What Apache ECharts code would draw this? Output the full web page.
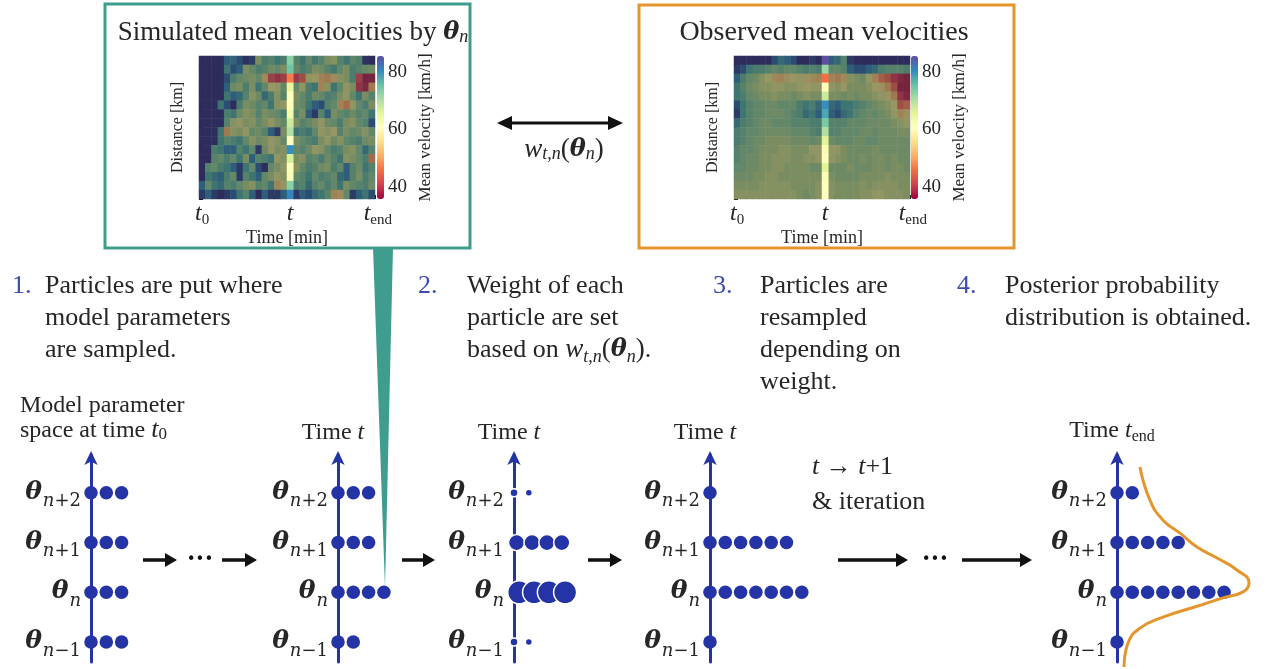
<!DOCTYPE html>
<html><head><meta charset="utf-8">
<script src="https://cdn.jsdelivr.net/npm/echarts@6/dist/echarts.min.js"></script>
<style>html,body{margin:0;padding:0;background:#fff}#c{width:1273px;height:669px}</style>
</head><body><div id="c"></div>
<script>
// ---------------- DATA ----------------
const timeCats = ['0','1','2','3','4','5','6','7','8','9','10','11','12','13','14','15','16','17','18','19','20','21','22','23','24','25','26','27'];
const distCats = ['0','1','2','3','4','5','6','7','8','9','10','11','12','13','14','15'];
const tIndex = 14;
const timeTickLabels = {0: 't0', 14: 't', 27: 'tend'};
const velocityTicks = [40, 60, 80];
const velocityRange = [35.8, 85.6];

// simulated mean velocities (rows top -> bottom, km/h)
const simRows = [
[86,86,86,86,80,79,82,85,84,66,74,72,76,74,73,72,76,70,75,72,66,64,72,76,71,73,85,86],
[86,86,86,86,76,82,80,66,70,74,72,68,70,66,75,70,74,72,66,68,72,75,70,66,74,72,70,68],
[86,86,86,86,82,74,70,68,66,70,54,42,40,42,47,41,44,62,60,52,50,55,64,66,74,42,37,37],
[86,86,86,86,80,68,66,74,66,76,70,60,62,70,65,70,62,74,76,52,64,76,70,62,66,40,38,50],
[86,86,86,86,76,80,78,72,64,68,78,74,64,72,61,66,70,74,68,70,74,72,66,62,70,76,66,72],
[86,86,86,76,82,86,74,66,68,72,70,76,64,62,60,68,70,76,80,82,72,70,52,48,62,70,74,66],
[86,86,86,86,74,76,68,64,66,72,66,68,70,74,63,72,66,80,84,72,80,66,70,72,68,72,70,76],
[86,86,86,86,72,64,62,66,64,70,66,62,66,70,68,66,72,70,66,62,68,70,74,66,64,70,72,82],
[86,86,86,76,50,64,66,62,70,68,72,80,84,66,70,76,74,76,70,62,64,60,72,66,70,68,64,70],
[86,86,86,76,72,74,76,70,64,68,66,62,64,70,61,66,70,72,74,66,62,68,64,70,72,74,68,66],
[86,86,74,76,80,80,72,76,70,84,68,62,66,64,80,70,72,68,62,64,70,74,72,66,64,70,78,72],
[86,86,72,70,74,70,76,66,80,72,74,76,62,64,67,66,64,72,70,74,68,72,76,64,66,70,74,48],
[86,72,70,74,76,80,84,76,70,82,86,70,66,62,61,64,70,74,72,68,66,74,70,80,72,68,76,72],
[86,76,78,80,74,70,84,72,76,80,70,66,62,64,62,70,72,76,70,74,72,70,78,80,72,66,74,70],
[80,70,76,78,72,74,70,66,64,72,70,76,52,62,73,74,72,78,72,70,74,70,76,66,70,72,74,68],
[84,80,84,86,84,82,76,72,80,86,80,84,84,80,81,84,80,82,78,76,72,52,54,70,84,80,76,82]
];
// observed mean velocities (rows top -> bottom, km/h)
const obsRows = [
[86,86,86,86,86,86,82,78,80,82,86,86,84,86,86,80,78,72,84,86,86,86,86,86,86,86,86,86],
[84,82,76,74,74,72,70,72,70,70,72,74,72,74,72,70,70,72,80,82,82,80,78,74,72,72,72,74],
[80,74,70,68,64,60,54,52,55,60,62,56,54,52,46,52,50,54,64,66,68,62,52,46,44,40,38,37],
[76,72,68,66,64,64,62,62,64,64,62,60,62,62,60,62,64,60,66,66,66,64,60,56,50,44,37,37],
[76,74,70,68,66,66,64,66,66,68,66,64,66,66,68,66,66,68,66,68,66,66,64,62,58,50,40,38],
[82,76,72,70,70,68,68,70,70,70,74,76,74,78,80,78,80,76,76,74,72,70,68,66,64,60,44,46],
[84,76,72,70,70,68,68,68,70,72,74,78,76,80,78,80,82,78,76,72,70,68,70,68,66,62,52,56],
[78,74,72,70,68,68,70,70,70,72,72,72,74,74,74,72,72,72,70,70,70,68,68,68,68,66,64,62],
[74,72,70,70,68,68,68,68,68,70,70,70,72,74,70,72,72,70,70,70,68,68,70,68,68,68,66,66],
[74,72,70,68,68,66,66,66,66,68,68,68,70,68,66,68,70,70,70,68,68,70,70,68,68,68,68,68],
[72,70,70,68,66,66,66,64,64,66,66,66,62,62,62,62,62,66,68,68,68,68,66,68,68,68,68,68],
[72,70,68,68,66,66,64,64,64,66,66,64,64,62,61,62,64,66,68,68,66,68,66,66,68,66,68,68],
[70,70,68,68,66,66,64,64,66,66,66,66,68,68,66,68,68,68,66,68,68,68,66,66,68,66,66,68],
[68,68,68,66,66,64,64,66,66,66,66,66,66,66,62,66,68,68,68,68,66,66,66,66,64,66,66,66],
[66,66,66,66,64,64,64,64,64,66,66,66,66,64,61,64,66,66,66,66,64,66,64,64,64,64,66,66],
[64,64,64,64,64,64,64,64,64,64,66,68,66,64,61,64,66,66,66,66,64,64,62,62,64,64,64,66]
];

// particle diagrams: parameter levels (index 0..3 = n-1, n, n+1, n+2)
const levelSubs = ['n−1', 'n', 'n+1', 'n+2'];
const levelValues = [0, 1, 2, 3];
// number of particles at each level (n-1, n, n+1, n+2)
const countsStart = [3, 3, 3, 3];
const countsTimeT = [2, 4, 3, 3];
const countsResampled = [1, 7, 6, 1];
const countsEnd = [1, 8, 5, 2];
// weighted particles: [slot position, level, weight]
const weightedParticles = [
  [0, 0, 0.12], [0.97, 0, 0.06],
  [0.34, 1, 1.0], [1.31, 1, 1.0], [2.28, 1, 1.0], [3.34, 1, 1.0],
  [0.17, 2, 0.6], [1.18, 2, 0.6], [2.15, 2, 0.6], [3.12, 2, 0.6],
  [0, 3, 0.12], [0.97, 3, 0.06]
];
// posterior density curve: [density, level]
const posteriorDensity = [1.50, 2.16, 3.01, 4.12, 5.23, 6.54, 7.84, 8.63, 8.24, 6.93, 5.23, 3.01, 1.50, 0.72, 0.46];
const posteriorLevel   = [3.52, 2.85, 2.45, 2.19, 1.91, 1.69, 1.45, 1.19, 1.01, 0.89, 0.72, 0.50, 0.28, -0.02, -0.50];

// ---------------- STYLE ----------------
const SERIF = '"Liberation Serif", "Times New Roman", serif';
const MATH = '"DejaVu Serif", serif';
const INK = '#262626';
const BLUE = '#2434a6';
const NUMBLUE = '#3a4bb0';
const TEAL = '#3f9d8d';
const ORANGE = '#e4952d';
const spectral = ['#9e0142','#d53e4f','#f46d43','#fdae61','#fee08b','#ffffbf','#e6f598','#abdda4','#66c2a5','#3288bd','#5e4fa2'];
const muted = ['#6a1e3c','#963848','#a35c44','#a07e52','#9c9060','#979764','#7c8e60','#5e866a','#41776f','#2b5a7b','#2d2c5c'];

// ---------------- BUILD ----------------
function baseCells(rows) {
  const d = [];
  rows.forEach((row, r) => row.forEach((v, c) => { if (c !== tIndex) d.push([c, r, v]); }));
  return d;
}
function tCells(rows) { return rows.map((row, r) => [tIndex, r, row[tIndex]]); }
function countsToData(counts) {
  const d = [];
  counts.forEach((n, level) => { for (let i = 0; i < n; i++) d.push([i, level]); });
  return d;
}

const hmGrids = [{left: 199, top: 56, width: 176, height: 143}, {left: 734, top: 56, width: 176, height: 143}];
const panelLeft = [91, 338, 514, 710, 1117];
const panelNames = ['', 'Time {it|t}', 'Time {it|t}', 'Time {it|t}', 'Time {it|t}{sub|end}'];

const grids = [], xAxes = [], yAxes = [];
const tRich = {
  it: {fontFamily: SERIF, fontStyle: 'italic', fontSize: 24, color: INK, lineHeight: 24, verticalAlign: 'top'},
  itp: {fontFamily: SERIF, fontStyle: 'italic', fontSize: 24, color: INK, lineHeight: 24, verticalAlign: 'top', padding: [0, 0, 0, 12]},
  sub: {fontFamily: SERIF, fontSize: 15, color: INK, lineHeight: 15, verticalAlign: 'top', padding: [11, 0, 0, 0]}
};
hmGrids.forEach((g, k) => {
  grids.push(g);
  xAxes.push({
    type: 'category', gridIndex: k, data: timeCats, position: 'bottom',
    axisLine: {show: false},
    axisTick: {show: true, inside: true, length: 4, interval: 1, lineStyle: {color: '#111', width: 1}},
    axisLabel: {
      interval: 0, margin: 3,
      formatter: (v, i) => {
        const s = timeTickLabels[i];
        if (!s) return '';
        if (s === 't0') return '{it|t}{sub|0}';
        if (s === 'tend') return '{itp|t}{sub|end}';
        return '{it|t}';
      },
      rich: tRich
    },
    name: 'Time [min]', nameLocation: 'middle', nameGap: 24,
    nameTextStyle: {fontFamily: SERIF, fontSize: 18, color: INK},
    splitLine: {show: false}
  });
  yAxes.push({
    type: 'category', gridIndex: k, data: distCats, inverse: true,
    axisLine: {show: false},
    axisTick: {show: true, inside: true, length: 4, interval: 1, lineStyle: {color: '#111', width: 1}},
    axisLabel: {show: false},
    name: 'Distance [km]', nameLocation: 'middle', nameGap: 13, nameRotate: 90,
    nameTextStyle: {fontFamily: SERIF, fontSize: 16, color: INK},
    splitLine: {show: false}
  });
});
// colorbar label axes
[377, 911].forEach((x, k) => {
  const gi = grids.length;
  grids.push({left: x, top: 56, width: 7, height: 143});
  xAxes.push({type: 'value', gridIndex: gi, show: false, min: 0, max: 1});
  yAxes.push({
    type: 'value', gridIndex: gi, position: 'right', min: velocityRange[0], max: velocityRange[1],
    axisLine: {show: false}, axisTick: {show: false}, splitLine: {show: false},
    axisLabel: {customValues: velocityTicks, margin: 4, fontFamily: SERIF, fontSize: 19, color: INK},
    name: 'Mean velocity [km/h]', nameLocation: 'middle', nameGap: 33, nameRotate: 90,
    nameTextStyle: {fontFamily: SERIF, fontSize: 17, color: INK}
  });
});
// particle panels
const panelGridStart = grids.length;
panelLeft.forEach((x, k) => {
  const gi = grids.length;
  grids.push({left: x, top: 455, width: 153, height: 207});
  xAxes.push({type: 'value', gridIndex: gi, show: false, min: 0, max: 10});
  yAxes.push({
    type: 'value', gridIndex: gi, min: -0.4, max: 3.76,
    axisLine: {show: true, onZero: false, symbol: ['none', 'arrow'], symbolSize: [10, 14], symbolOffset: [0, 4],
      lineStyle: {color: BLUE, width: 3}},
    axisTick: {show: false}, splitLine: {show: false},
    axisLabel: {
      customValues: levelValues, margin: 10,
      formatter: v => {
        const s = levelSubs[Math.round(v)];
        return '{th|θ}{si|n}' + (s.length > 1 ? '{su|' + s.slice(1) + '}' : '');
      },
      rich: {
        th: {fontFamily: MATH, fontStyle: 'italic', fontWeight: 'bold', fontSize: 25, color: INK, lineHeight: 26, verticalAlign: 'top'},
        si: {fontFamily: MATH, fontStyle: 'italic', fontSize: 18, color: INK, lineHeight: 18, verticalAlign: 'top', padding: [13, 0, 0, 1]},
        su: {fontFamily: MATH, fontSize: 18, color: INK, lineHeight: 18, verticalAlign: 'top', padding: [13, 0, 0, 0]}
      }
    },
    name: panelNames[k], nameLocation: 'end', nameGap: 10,
    nameTextStyle: {fontFamily: SERIF, fontSize: 24, color: INK, align: 'center', padding: [0, 10, 0, 0],
      rich: {
        it: {fontFamily: SERIF, fontStyle: 'italic', fontSize: 24, color: INK},
        sub: {fontFamily: SERIF, fontSize: 16, color: INK, padding: [12, 0, 0, 0]}
      }}
  });
});

const series = [
  {type: 'heatmap', xAxisIndex: 0, yAxisIndex: 0, data: baseCells(simRows), emphasis: {disabled: true}},
  {type: 'heatmap', xAxisIndex: 0, yAxisIndex: 0, data: tCells(simRows), emphasis: {disabled: true}},
  {type: 'heatmap', xAxisIndex: 1, yAxisIndex: 1, data: baseCells(obsRows), emphasis: {disabled: true}},
  {type: 'heatmap', xAxisIndex: 1, yAxisIndex: 1, data: tCells(obsRows), emphasis: {disabled: true}}
];
const dot = {color: BLUE, opacity: 1};
const pc = panelGridStart;
series.push({type: 'scatter', xAxisIndex: pc, yAxisIndex: pc, data: countsToData(countsStart), symbolSize: 13.5, itemStyle: dot, silent: true});
series.push({type: 'scatter', xAxisIndex: pc + 1, yAxisIndex: pc + 1, data: countsToData(countsTimeT), symbolSize: 13.5, itemStyle: dot, silent: true});
series.push({type: 'scatter', xAxisIndex: pc + 2, yAxisIndex: pc + 2, data: weightedParticles,
  symbolSize: d => 6 + 17 * d[2], itemStyle: {color: BLUE, opacity: 1, borderColor: '#fff', borderWidth: 1.5}, silent: true});
series.push({type: 'scatter', xAxisIndex: pc + 3, yAxisIndex: pc + 3, data: countsToData(countsResampled), symbolSize: 13.5, itemStyle: dot, silent: true});
series.push({type: 'scatter', xAxisIndex: pc + 4, yAxisIndex: pc + 4, data: countsToData(countsEnd), symbolSize: 13.5, itemStyle: dot, silent: true});
series.push({type: 'line', xAxisIndex: pc + 4, yAxisIndex: pc + 4, data: posteriorDensity.map((x, i) => [x, posteriorLevel[i]]),
  smooth: 0.5, symbol: 'none', clip: false, lineStyle: {color: ORANGE, width: 3}, silent: true});

// ---------------- ANNOTATIONS ----------------
function arrow(x1, x2, y, color, w, hl, hw) {
  return [
    {type: 'line', shape: {x1: x1, y1: y, x2: x2 - hl + 1, y2: y}, style: {stroke: color, lineWidth: w}},
    {type: 'polygon', shape: {points: [[x2, y], [x2 - hl, y - hw], [x2 - hl, y + hw]]}, style: {fill: color}}
  ];
}
const txt = (x, y, text, extra) => ({type: 'text', x: x, y: y, style: Object.assign({text: text, fontFamily: SERIF, fontSize: 26, fill: INK, lineHeight: 32, verticalAlign: 'top'}, extra || {})});
const mathRich = {
  w: {fontFamily: SERIF, fontStyle: 'italic', fontSize: 27, fill: INK},
  ws: {fontFamily: SERIF, fontStyle: 'italic', fontSize: 18, fill: INK, verticalAlign: 'bottom', lineHeight: 16},
  th: {fontFamily: MATH, fontStyle: 'italic', fontWeight: 'bold', fontSize: 24, fill: INK},
  p: {fontFamily: SERIF, fontSize: 27, fill: INK},
  it: {fontFamily: SERIF, fontStyle: 'italic', fontSize: 26, fill: INK},
  sub: {fontFamily: SERIF, fontSize: 17, fill: INK, verticalAlign: 'bottom', lineHeight: 14}
};
const graphic = [
  {type: 'rect', shape: {x: 105, y: 4, width: 365, height: 244}, style: {fill: 'none', stroke: TEAL, lineWidth: 3}},
  {type: 'rect', shape: {x: 639, y: 5, width: 375, height: 243}, style: {fill: 'none', stroke: ORANGE, lineWidth: 3}},
  {type: 'polygon', shape: {points: [[373, 247], [393, 247], [385, 588]]}, style: {fill: TEAL}},
  {type: 'text', x: 293, y: 33, style: {text: 'Simulated mean velocities by {th|θ}{ws|n}', rich: mathRich, fontFamily: SERIF, fontSize: 27, fill: INK, align: 'center', verticalAlign: 'middle'}},
  {type: 'text', x: 824, y: 33, style: {text: 'Observed mean velocities', fontFamily: SERIF, fontSize: 28, fill: INK, align: 'center', verticalAlign: 'middle'}},
  {type: 'line', shape: {x1: 508, y1: 123, x2: 611, y2: 123}, style: {stroke: '#111', lineWidth: 3}},
  {type: 'polygon', shape: {points: [[497, 123], [512, 116], [512, 130]]}, style: {fill: '#111'}},
  {type: 'polygon', shape: {points: [[623, 123], [608, 116], [608, 130]]}, style: {fill: '#111'}},
  {type: 'text', x: 564, y: 150, style: {text: '{w|w}{ws|t,n}{p|(}{th|θ}{ws|n}{p|)}', rich: mathRich, align: 'center', verticalAlign: 'middle'}},
  // steps
  txt(12, 270, '1.', {fill: NUMBLUE}),
  txt(45, 270, 'Particles are put where\nmodel parameters\nare sampled.'),
  txt(418, 270, '2.', {fill: NUMBLUE}),
  txt(467, 270, 'Weight of each\nparticle are set\nbased on {w|w}{ws|t,n}{p|(}{th|θ}{ws|n}{p|)}.', {rich: mathRich}),
  txt(713, 270, '3.', {fill: NUMBLUE}),
  txt(760, 270, 'Particles are\nresampled\ndepending on\nweight.'),
  txt(957, 270, '4.', {fill: NUMBLUE}),
  txt(1005, 270, 'Posterior probability\ndistribution is obtained.'),
  // panel 1 heading
  txt(20, 393, 'Model parameter\nspace at time {it|t}{sub|0}', {fontSize: 24, lineHeight: 25, rich: mathRich}),
  txt(812, 450, '{it|t} → {it|t}+1\n& iteration', {fontSize: 26, lineHeight: 35, rich: mathRich}),
  // ellipses
  {type: 'text', x: 200, y: 560, style: {text: '•••', fontFamily: '"DejaVu Sans"', fontSize: 15, fill: '#111', align: 'center', verticalAlign: 'middle'}},
  {type: 'text', x: 935, y: 560, style: {text: '•••', fontFamily: '"DejaVu Sans"', fontSize: 15, fill: '#111', align: 'center', verticalAlign: 'middle'}}
].concat(arrow(143, 177, 560, '#111', 3.5, 12, 7), arrow(222, 257, 560, '#111', 3.5, 12, 7),
         arrow(402, 435, 560, '#111', 3.5, 12, 7), arrow(588, 622, 560, '#111', 3.5, 12, 7),
         arrow(838, 908, 560, '#111', 3.5, 12, 7), arrow(962, 1032, 560, '#111', 3.5, 12, 7));

const chart = echarts.init(document.getElementById('c'), null, {renderer: 'canvas'});
chart.setOption({
  animation: false,
  backgroundColor: '#fff',
  grid: grids,
  xAxis: xAxes,
  yAxis: yAxes,
  visualMap: [
    {type: 'continuous', seriesIndex: [1], min: velocityRange[0], max: velocityRange[1], inRange: {color: spectral},
     left: 377, top: 56, itemWidth: 7, itemHeight: 143, padding: 0, calculable: false, text: null, showLabel: false, hoverLink: false},
    {type: 'continuous', seriesIndex: [3], min: velocityRange[0], max: velocityRange[1], inRange: {color: spectral},
     left: 911, top: 56, itemWidth: 7, itemHeight: 143, padding: 0, calculable: false, text: null, showLabel: false, hoverLink: false},
    {type: 'continuous', seriesIndex: [0, 2], min: velocityRange[0], max: velocityRange[1], inRange: {color: muted}, show: false}
  ],
  series: series,
  graphic: graphic
});
</script></body></html>
